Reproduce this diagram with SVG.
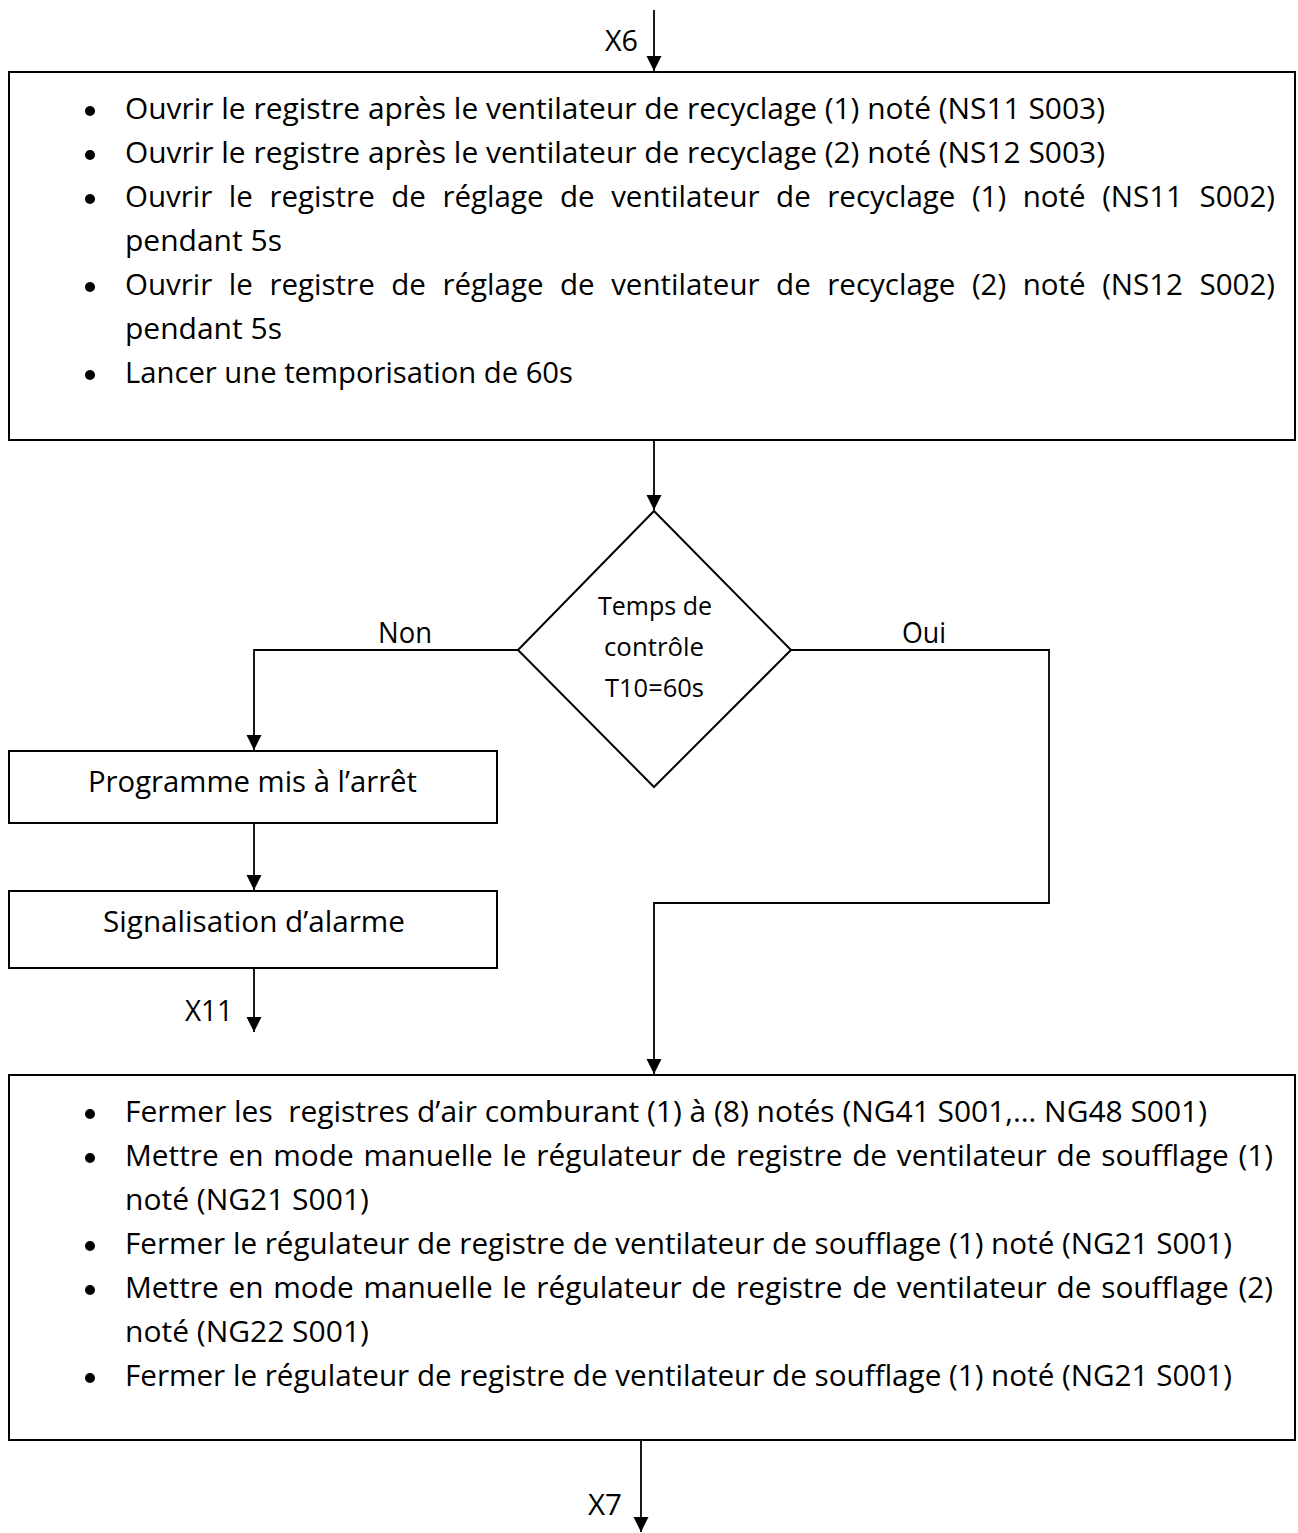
<svg xmlns="http://www.w3.org/2000/svg" width="1298" height="1533" viewBox="0 0 1298 1533">
  <style>
    text { font-family: "Open Sans", "Noto Sans", "DejaVu Sans", sans-serif; fill: #000; }
    .t { font-size: 30px; }
    .s { font-size: 25px; }
    .j { word-spacing: 9px; }
    .jb { word-spacing: 2px; }
    .box { fill: #fff; stroke: #000; stroke-width: 2; }
    .wire { fill: none; stroke: #000; stroke-width: 1.8; }
    .dot { fill: #000; }
  </style>
  <defs>
    <marker id="arrow" markerUnits="userSpaceOnUse" markerWidth="16" markerHeight="16" refX="15" refY="7.5" orient="auto">
      <path d="M0,0 L15,7.5 L0,15 Z" fill="#000"/>
    </marker>
  </defs>

  <rect width="1298" height="1533" fill="#fff"/>

  <!-- connectors -->
  <g id="connectors">
    <line class="wire" x1="654" y1="10" x2="654" y2="71" marker-end="url(#arrow)"/>
    <line class="wire" x1="654" y1="440" x2="654" y2="510" marker-end="url(#arrow)"/>
    <polyline class="wire" points="518,650 254,650 254,750" marker-end="url(#arrow)"/>
    <line class="wire" x1="254" y1="823" x2="254" y2="890" marker-end="url(#arrow)"/>
    <line class="wire" x1="254" y1="968" x2="254" y2="1032" marker-end="url(#arrow)"/>
    <polyline class="wire" points="791,650 1049,650 1049,903 654,903 654,1074" marker-end="url(#arrow)"/>
    <line class="wire" x1="641" y1="1440" x2="641" y2="1532" marker-end="url(#arrow)"/>
    <text class="t" x="605" y="51" textLength="33" lengthAdjust="spacingAndGlyphs">X6</text>
    <text class="t" x="378" y="643" textLength="54" lengthAdjust="spacingAndGlyphs">Non</text>
    <text class="t" x="902" y="643" textLength="44" lengthAdjust="spacingAndGlyphs">Oui</text>
    <text class="t" x="185" y="1021" textLength="48" lengthAdjust="spacingAndGlyphs">X11</text>
    <text class="t" x="588" y="1515" textLength="34" lengthAdjust="spacingAndGlyphs">X7</text>
  </g>

  <!-- opening of the recycling fan dampers -->
  <g id="step-open">
    <rect class="box" x="9" y="72" width="1286" height="368"/>
    <circle class="dot" cx="90" cy="111" r="5"/>
    <circle class="dot" cx="90" cy="155" r="5"/>
    <circle class="dot" cx="90" cy="199" r="5"/>
    <circle class="dot" cx="90" cy="287" r="5"/>
    <circle class="dot" cx="90" cy="375" r="5"/>
    <text class="t" x="125" y="119" textLength="980" lengthAdjust="spacingAndGlyphs">Ouvrir le registre après le ventilateur de recyclage (1) noté (NS11 S003)</text>
    <text class="t" x="125" y="163" textLength="980" lengthAdjust="spacingAndGlyphs">Ouvrir le registre après le ventilateur de recyclage (2) noté (NS12 S003)</text>
    <text class="t j" x="125" y="207" textLength="1150" lengthAdjust="spacingAndGlyphs">Ouvrir le registre de réglage de ventilateur de recyclage (1) noté (NS11 S002)</text>
    <text class="t" x="125" y="251">pendant 5s</text>
    <text class="t j" x="125" y="295" textLength="1150" lengthAdjust="spacingAndGlyphs">Ouvrir le registre de réglage de ventilateur de recyclage (2) noté (NS12 S002)</text>
    <text class="t" x="125" y="339">pendant 5s</text>
    <text class="t" x="125" y="383" textLength="448" lengthAdjust="spacingAndGlyphs">Lancer une temporisation de 60s</text>
  </g>

  <!-- control time test -->
  <g id="test-t10">
    <polygon class="box" points="654,511 791,650 654,787 518,650"/>
    <text class="s" x="598" y="615" textLength="114" lengthAdjust="spacingAndGlyphs">Temps de</text>
    <text class="s" x="604" y="656" textLength="100" lengthAdjust="spacingAndGlyphs">contrôle</text>
    <text class="s" x="605" y="697" textLength="99" lengthAdjust="spacingAndGlyphs">T10=60s</text>
  </g>

  <g id="stop">
    <rect class="box" x="9" y="751" width="488" height="72"/>
    <text class="t" x="88" y="792" textLength="329" lengthAdjust="spacingAndGlyphs">Programme mis à l’arrêt</text>
  </g>

  <g id="alarm">
    <rect class="box" x="9" y="891" width="488" height="77"/>
    <text class="t" x="103" y="932" textLength="302" lengthAdjust="spacingAndGlyphs">Signalisation d’alarme</text>
  </g>

  <!-- closing of the combustion air dampers and blower regulators -->
  <g id="step-close">
    <rect class="box" x="9" y="1075" width="1286" height="365"/>
    <circle class="dot" cx="90" cy="1114" r="5"/>
    <circle class="dot" cx="90" cy="1158" r="5"/>
    <circle class="dot" cx="90" cy="1246" r="5"/>
    <circle class="dot" cx="90" cy="1290" r="5"/>
    <circle class="dot" cx="90" cy="1378" r="5"/>
    <text class="t" x="125" y="1122" textLength="1082" lengthAdjust="spacingAndGlyphs" xml:space="preserve">Fermer les  registres d’air comburant (1) à (8) notés (NG41 S001,… NG48 S001)</text>
    <text class="t jb" x="125" y="1166" textLength="1148" lengthAdjust="spacingAndGlyphs">Mettre en mode manuelle le régulateur de registre de ventilateur de soufflage (1)</text>
    <text class="t" x="125" y="1210">noté (NG21 S001)</text>
    <text class="t" x="125" y="1254" textLength="1107" lengthAdjust="spacingAndGlyphs">Fermer le régulateur de registre de ventilateur de soufflage (1) noté (NG21 S001)</text>
    <text class="t jb" x="125" y="1298" textLength="1148" lengthAdjust="spacingAndGlyphs">Mettre en mode manuelle le régulateur de registre de ventilateur de soufflage (2)</text>
    <text class="t" x="125" y="1342">noté (NG22 S001)</text>
    <text class="t" x="125" y="1386" textLength="1107" lengthAdjust="spacingAndGlyphs">Fermer le régulateur de registre de ventilateur de soufflage (1) noté (NG21 S001)</text>
  </g>
</svg>
